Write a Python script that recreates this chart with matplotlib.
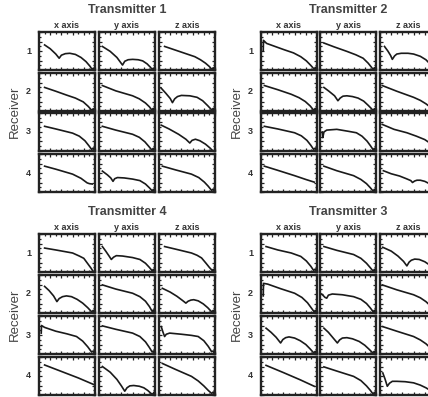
import matplotlib
matplotlib.use("Agg")
import matplotlib.pyplot as plt
from matplotlib.ticker import MultipleLocator

plt.rcParams['font.family'] = ['Liberation Sans', 'DejaVu Sans']

transmitters = ["Transmitter 1", "Transmitter 2", "Transmitter 4", "Transmitter 3"]
axis_names = ["x axis", "y axis", "z axis"]
receivers = ["1", "2", "3", "4"]

# curves: (x, y) in panel units 0..1, [receiver][axis]
tx1 = [
    [[(0.10, 0.66), (0.20, 0.56), (0.30, 0.42), (0.36, 0.31), (0.40, 0.39), (0.47, 0.43), (0.55, 0.44), (0.65, 0.41), (0.75, 0.33), (0.84, 0.22), (0.91, 0.10), (0.95, 0.01), (0.97, 0.05), (0.99, 0.0)],
     [(0.06, 0.62), (0.20, 0.49), (0.32, 0.33), (0.42, 0.13), (0.46, 0.23), (0.52, 0.27), (0.60, 0.28), (0.70, 0.27), (0.78, 0.24), (0.86, 0.16), (0.92, 0.07), (0.95, 0.01), (0.97, 0.05), (0.99, 0.0)],
     [(0.10, 0.62), (0.30, 0.52), (0.50, 0.42), (0.64, 0.35), (0.74, 0.27), (0.83, 0.18), (0.90, 0.09), (0.94, 0.02), (0.97, 0.06), (0.99, 0.0)]],
    [[(0.10, 0.62), (0.30, 0.52), (0.49, 0.42), (0.65, 0.34), (0.79, 0.24), (0.88, 0.12), (0.94, 0.02), (0.97, 0.06), (0.99, 0.0)],
     [(0.06, 0.67), (0.30, 0.53), (0.60, 0.40), (0.72, 0.32), (0.83, 0.21), (0.90, 0.11), (0.94, 0.03), (0.97, 0.07), (0.99, 0.0)],
     [(0.04, 0.60), (0.12, 0.47), (0.20, 0.33), (0.24, 0.22), (0.28, 0.32), (0.33, 0.38), (0.40, 0.41), (0.55, 0.40), (0.68, 0.36), (0.78, 0.27), (0.87, 0.14), (0.94, 0.03), (0.97, 0.07), (0.99, 0.0)]],
    [[(0.10, 0.65), (0.30, 0.58), (0.60, 0.47), (0.72, 0.39), (0.82, 0.27), (0.89, 0.14), (0.94, 0.04), (0.97, 0.08), (0.99, 0.0)],
     [(0.06, 0.65), (0.30, 0.55), (0.60, 0.44), (0.72, 0.36), (0.82, 0.24), (0.89, 0.12), (0.94, 0.03), (0.97, 0.07), (0.99, 0.0)],
     [(0.04, 0.68), (0.18, 0.58), (0.35, 0.44), (0.48, 0.31), (0.55, 0.21), (0.59, 0.28), (0.65, 0.31), (0.73, 0.27), (0.83, 0.18), (0.91, 0.08), (0.95, 0.02), (0.99, 0.0)]],
    [[(0.10, 0.68), (0.30, 0.60), (0.60, 0.47), (0.75, 0.36), (0.86, 0.24), (0.90, 0.22), (0.95, 0.21)],
     [(0.06, 0.55), (0.15, 0.45), (0.21, 0.37), (0.25, 0.28), (0.28, 0.35), (0.33, 0.38), (0.45, 0.37), (0.60, 0.34), (0.73, 0.30), (0.83, 0.21), (0.90, 0.11), (0.95, 0.03), (0.97, 0.07), (0.99, 0.0)],
     [(0.06, 0.68), (0.30, 0.58), (0.58, 0.47), (0.71, 0.38), (0.81, 0.26), (0.88, 0.15), (0.94, 0.04), (0.97, 0.08), (0.99, 0.0)]],
]
tx2 = [
    [[(0.04, 0.50), (0.045, 0.78), (0.10, 0.70), (0.25, 0.62), (0.42, 0.53), (0.58, 0.45), (0.71, 0.35), (0.81, 0.24), (0.89, 0.12), (0.95, 0.02), (0.97, 0.07), (0.99, 0.0)],
     [(0.07, 0.71), (0.25, 0.61), (0.48, 0.49), (0.64, 0.40), (0.77, 0.31), (0.86, 0.18), (0.92, 0.07), (0.95, 0.01), (0.97, 0.06), (0.99, 0.0)],
     [(0.08, 0.62), (0.14, 0.50), (0.19, 0.38), (0.22, 0.28), (0.26, 0.37), (0.30, 0.42), (0.38, 0.44), (0.50, 0.44), (0.60, 0.42), (0.72, 0.36), (0.82, 0.27), (0.90, 0.15), (0.95, 0.05), (0.98, 0.0)]],
    [[(0.06, 0.67), (0.30, 0.56), (0.54, 0.44), (0.68, 0.35), (0.79, 0.25), (0.88, 0.13), (0.94, 0.02), (0.97, 0.07), (0.99, 0.0)],
     [(0.07, 0.62), (0.16, 0.52), (0.26, 0.40), (0.32, 0.27), (0.36, 0.34), (0.41, 0.39), (0.48, 0.40), (0.58, 0.38), (0.68, 0.34), (0.78, 0.26), (0.86, 0.15), (0.92, 0.06), (0.95, 0.01), (0.97, 0.06), (0.99, 0.0)],
     [(0.04, 0.67), (0.30, 0.52), (0.60, 0.36), (0.72, 0.28), (0.82, 0.19), (0.90, 0.10), (0.96, 0.03), (0.99, 0.0)]],
    [[(0.06, 0.65), (0.30, 0.58), (0.60, 0.48), (0.72, 0.40), (0.82, 0.28), (0.89, 0.15), (0.94, 0.04), (0.97, 0.08), (0.99, 0.0)],
     [(0.04, 0.50), (0.05, 0.35), (0.07, 0.50), (0.12, 0.55), (0.30, 0.57), (0.50, 0.52), (0.65, 0.48), (0.75, 0.39), (0.84, 0.26), (0.90, 0.14), (0.95, 0.03), (0.97, 0.07), (0.99, 0.0)],
     [(0.04, 0.70), (0.25, 0.57), (0.48, 0.48), (0.65, 0.39), (0.80, 0.30), (0.88, 0.22), (0.95, 0.12), (0.99, 0.05)]],
    [[(0.06, 0.68), (0.30, 0.57), (0.60, 0.43), (0.80, 0.33), (0.95, 0.26)],
     [(0.07, 0.68), (0.30, 0.56), (0.60, 0.43), (0.73, 0.33), (0.83, 0.22), (0.90, 0.11), (0.95, 0.02), (0.97, 0.07), (0.99, 0.0)],
     [(0.06, 0.56), (0.20, 0.48), (0.35, 0.42), (0.47, 0.35), (0.55, 0.30), (0.58, 0.25), (0.62, 0.29), (0.66, 0.31), (0.72, 0.31), (0.80, 0.28), (0.88, 0.22), (0.95, 0.15), (0.99, 0.10)]],
]
tx4 = [
    [[(0.10, 0.63), (0.30, 0.58), (0.60, 0.50), (0.72, 0.42), (0.80, 0.36), (0.87, 0.22), (0.93, 0.10), (0.96, 0.03), (0.99, 0.0)],
     [(0.06, 0.67), (0.12, 0.55), (0.18, 0.42), (0.22, 0.33), (0.26, 0.39), (0.31, 0.43), (0.42, 0.42), (0.60, 0.38), (0.73, 0.33), (0.83, 0.23), (0.90, 0.12), (0.95, 0.03), (0.97, 0.07), (0.99, 0.0)],
     [(0.10, 0.67), (0.30, 0.60), (0.58, 0.50), (0.68, 0.44), (0.76, 0.37), (0.84, 0.23), (0.90, 0.12), (0.95, 0.04), (0.97, 0.07), (0.99, 0.0)]],
    [[(0.10, 0.70), (0.18, 0.59), (0.26, 0.45), (0.32, 0.30), (0.36, 0.38), (0.42, 0.43), (0.49, 0.45), (0.58, 0.43), (0.68, 0.36), (0.78, 0.26), (0.87, 0.14), (0.94, 0.03), (0.97, 0.07), (0.99, 0.0)],
     [(0.06, 0.74), (0.30, 0.63), (0.60, 0.52), (0.73, 0.43), (0.83, 0.31), (0.90, 0.17), (0.95, 0.04), (0.97, 0.08), (0.99, 0.0)],
     [(0.06, 0.65), (0.20, 0.55), (0.32, 0.44), (0.42, 0.33), (0.48, 0.26), (0.52, 0.31), (0.57, 0.34), (0.62, 0.35), (0.70, 0.32), (0.79, 0.24), (0.87, 0.14), (0.94, 0.03), (0.97, 0.07), (0.99, 0.0)]],
    [[(0.04, 0.55), (0.045, 0.75), (0.10, 0.70), (0.30, 0.60), (0.50, 0.53), (0.67, 0.46), (0.78, 0.34), (0.87, 0.19), (0.94, 0.05), (0.97, 0.08), (0.99, 0.0)],
     [(0.06, 0.74), (0.30, 0.65), (0.60, 0.55), (0.73, 0.46), (0.83, 0.32), (0.90, 0.17), (0.95, 0.05), (0.97, 0.08), (0.99, 0.0)],
     [(0.04, 0.72), (0.07, 0.58), (0.10, 0.46), (0.13, 0.52), (0.19, 0.55), (0.40, 0.52), (0.58, 0.49), (0.70, 0.46), (0.80, 0.35), (0.88, 0.20), (0.94, 0.06), (0.97, 0.08), (0.99, 0.0)]],
    [[(0.10, 0.79), (0.40, 0.62), (0.70, 0.45), (0.97, 0.28)],
     [(0.06, 0.75), (0.20, 0.60), (0.32, 0.41), (0.40, 0.24), (0.46, 0.10), (0.50, 0.19), (0.55, 0.24), (0.62, 0.25), (0.72, 0.23), (0.80, 0.19), (0.87, 0.12), (0.93, 0.04), (0.96, 0.02), (0.98, 0.07), (0.99, 0.0)],
     [(0.06, 0.83), (0.30, 0.67), (0.58, 0.49), (0.70, 0.37), (0.80, 0.24), (0.88, 0.12), (0.94, 0.04), (0.97, 0.08), (0.99, 0.0)]],
]
tx3 = [
    [[(0.09, 0.67), (0.30, 0.58), (0.54, 0.50), (0.71, 0.41), (0.81, 0.29), (0.89, 0.15), (0.94, 0.04), (0.97, 0.08), (0.99, 0.0)],
     [(0.07, 0.67), (0.30, 0.57), (0.60, 0.46), (0.73, 0.36), (0.83, 0.23), (0.90, 0.11), (0.95, 0.02), (0.97, 0.07), (0.99, 0.0)],
     [(0.05, 0.65), (0.20, 0.55), (0.32, 0.42), (0.42, 0.28), (0.48, 0.16), (0.52, 0.26), (0.56, 0.31), (0.62, 0.34), (0.70, 0.33), (0.80, 0.27), (0.90, 0.17), (0.97, 0.08)]],
    [[(0.04, 0.45), (0.045, 0.78), (0.12, 0.76), (0.35, 0.64), (0.60, 0.52), (0.73, 0.41), (0.83, 0.27), (0.90, 0.13), (0.95, 0.03), (0.97, 0.07), (0.99, 0.0)],
     [(0.03, 0.50), (0.09, 0.41), (0.12, 0.39), (0.15, 0.47), (0.22, 0.50), (0.40, 0.48), (0.60, 0.43), (0.73, 0.36), (0.83, 0.25), (0.90, 0.13), (0.95, 0.03), (0.97, 0.07), (0.99, 0.0)],
     [(0.04, 0.74), (0.30, 0.61), (0.60, 0.48), (0.72, 0.40), (0.82, 0.30), (0.90, 0.19), (0.97, 0.09)]],
    [[(0.09, 0.68), (0.18, 0.57), (0.27, 0.44), (0.35, 0.29), (0.39, 0.38), (0.44, 0.43), (0.50, 0.45), (0.60, 0.42), (0.70, 0.35), (0.80, 0.25), (0.88, 0.13), (0.94, 0.03), (0.97, 0.07), (0.99, 0.0)],
     [(0.07, 0.68), (0.15, 0.57), (0.23, 0.43), (0.31, 0.29), (0.35, 0.37), (0.40, 0.42), (0.48, 0.43), (0.58, 0.40), (0.70, 0.33), (0.80, 0.23), (0.88, 0.12), (0.94, 0.03), (0.97, 0.07), (0.99, 0.0)],
     [(0.05, 0.72), (0.30, 0.60), (0.60, 0.46), (0.72, 0.37), (0.82, 0.27), (0.90, 0.16), (0.97, 0.07)]],
    [[(0.09, 0.78), (0.40, 0.59), (0.70, 0.40), (0.95, 0.23)],
     [(0.07, 0.74), (0.30, 0.63), (0.60, 0.49), (0.73, 0.38), (0.83, 0.24), (0.90, 0.12), (0.95, 0.02), (0.97, 0.07), (0.99, 0.0)],
     [(0.05, 0.58), (0.09, 0.42), (0.13, 0.23), (0.17, 0.31), (0.22, 0.36), (0.30, 0.36), (0.45, 0.35), (0.60, 0.32), (0.72, 0.26), (0.82, 0.19), (0.92, 0.10), (0.99, 0.04)]],
]
groups = [tx1, tx2, tx4, tx3]

W, H = 428, 397
fig = plt.figure(figsize=(W / 100, H / 100), dpi=100)

col_left = [[39, 99, 159], [261, 320, 380]]
row_top = [[32, 73, 113, 154], [234, 275, 316, 357]]
pw, ph = 56, 38
txt = "#333333"

for g, (name, data) in enumerate(zip(transmitters, groups)):
    gc, gr = g % 2, g // 2
    cols, rows = col_left[gc], row_top[gr]
    for r in range(4):
        for c in range(3):
            x0, y0 = cols[c], rows[r]
            ax = fig.add_axes([x0 / W, 1 - (y0 + ph) / H, pw / W, ph / H])
            xs, ys = zip(*data[r][c])
            ax.plot(xs, ys, color="#1a1a1a", lw=1.2, solid_joinstyle="round")
            ax.set_xlim(0, 1)
            ax.set_ylim(0, 1)
            ax.xaxis.set_major_locator(MultipleLocator(0.2))
            ax.yaxis.set_major_locator(MultipleLocator(0.25))
            ax.xaxis.set_minor_locator(MultipleLocator(0.1))
            ax.yaxis.set_minor_locator(MultipleLocator(0.125))
            ax.tick_params(which="both", direction="in", top=True, right=True,
                           labelbottom=False, labelleft=False, width=0.9, color="#222222")
            ax.tick_params(which="major", length=2.0)
            ax.tick_params(which="minor", length=1.2)
            for s in ax.spines.values():
                s.set_linewidth(1.7)
                s.set_color("#222222")
            if r == 0:
                ax.text(0.5, 1.05, axis_names[c], transform=ax.transAxes, ha="center",
                        va="bottom", fontsize=6.5, fontweight="bold", color=txt)
            if c == 0:
                ax.text(-0.14, 0.5, receivers[r], transform=ax.transAxes, ha="right",
                        va="center", fontsize=6.5, fontweight="bold", color=txt)
    cx = (cols[0] + cols[2] + pw) / 2
    fig.text(cx / W, 1 - (rows[0] - 22) / H, name, ha="center", va="center",
             fontsize=9, fontweight="bold", color="#444444")
    ymid = (rows[0] + rows[3] + ph) / 2
    fig.text((cols[0] - 24) / W, 1 - ymid / H, "Receiver", rotation=90,
             ha="center", va="center", fontsize=9.5, color="#444444")

fig.savefig("out.png", dpi=100)
